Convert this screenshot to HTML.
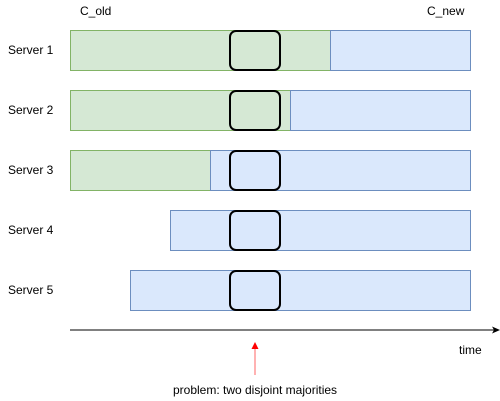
<!DOCTYPE html>
<html><head><meta charset="utf-8"><style>
html,body{margin:0;padding:0;background:#fff;}
svg{display:block;font-family:"Liberation Sans",Arial,sans-serif;}
</style></head><body>
<svg id="chart" width="500" height="401" viewBox="0 0 500 401">
<text x="80" y="15" font-size="12" fill="#000">C_old</text>
<text x="427" y="15" font-size="12" fill="#000">C_new</text>
<g id="rows"></g>
<line x1="70" y1="330" x2="494" y2="330" stroke="#000" stroke-width="1"/>
<path d="M500,330 L492,326.5 L494,330 L492,333.5 Z" fill="#000"/>
<text x="459" y="354" font-size="12" fill="#000">time</text>
<line x1="255" y1="375" x2="255" y2="348" stroke="#ff6666" stroke-width="1"/>
<path d="M255,342 L251.5,349 L258.5,349 Z" fill="#ff0000"/>
<text x="255" y="394" font-size="12" fill="#000" text-anchor="middle">problem: two disjoint majorities</text>
</svg>
<script>
const servers = ["Server 1","Server 2","Server 3","Server 4","Server 5"];
const oldStart = [0, 0, 0, null, null];
const switchTime = [26, 22, 14, 10, 6];
const endTime = 40;
const highlightStart = 16, highlightEnd = 21;

const x = t => 70 + t * 10;
const rowY = i => 30 + i * 60;
const rowH = 40;
const ns = "http://www.w3.org/2000/svg";
const g = document.getElementById("rows");
function mk(tag, attrs){const e=document.createElementNS(ns,tag);for(const k in attrs)e.setAttribute(k,attrs[k]);return e;}
servers.forEach((name,i)=>{
  const y=rowY(i);
  const lab=mk("text",{x:8,y:y+24,"font-size":12,fill:"#000"});
  lab.textContent=name;
  
  
  g.appendChild(lab);
  if(oldStart[i]!==null){
    const r=mk("rect",{x:x(oldStart[i])+0.5,y:y+0.5,width:x(switchTime[i])-x(oldStart[i]),height:rowH,fill:"#d5e8d4",stroke:"#82b366"});
    
    
    g.appendChild(r);
  }
  const b=mk("rect",{x:x(switchTime[i])+0.5,y:y+0.5,width:x(endTime)-x(switchTime[i]),height:rowH,fill:"#dae8fc",stroke:"#6c8ebf"});
  
  
  g.appendChild(b);
  const h=mk("rect",{x:x(highlightStart),y:y+1,width:x(highlightEnd)-x(highlightStart),height:rowH-1,rx:6,ry:6,fill:"none",stroke:"#000","stroke-width":2});
  
  
  g.appendChild(h);
});
</script>
</body></html>
